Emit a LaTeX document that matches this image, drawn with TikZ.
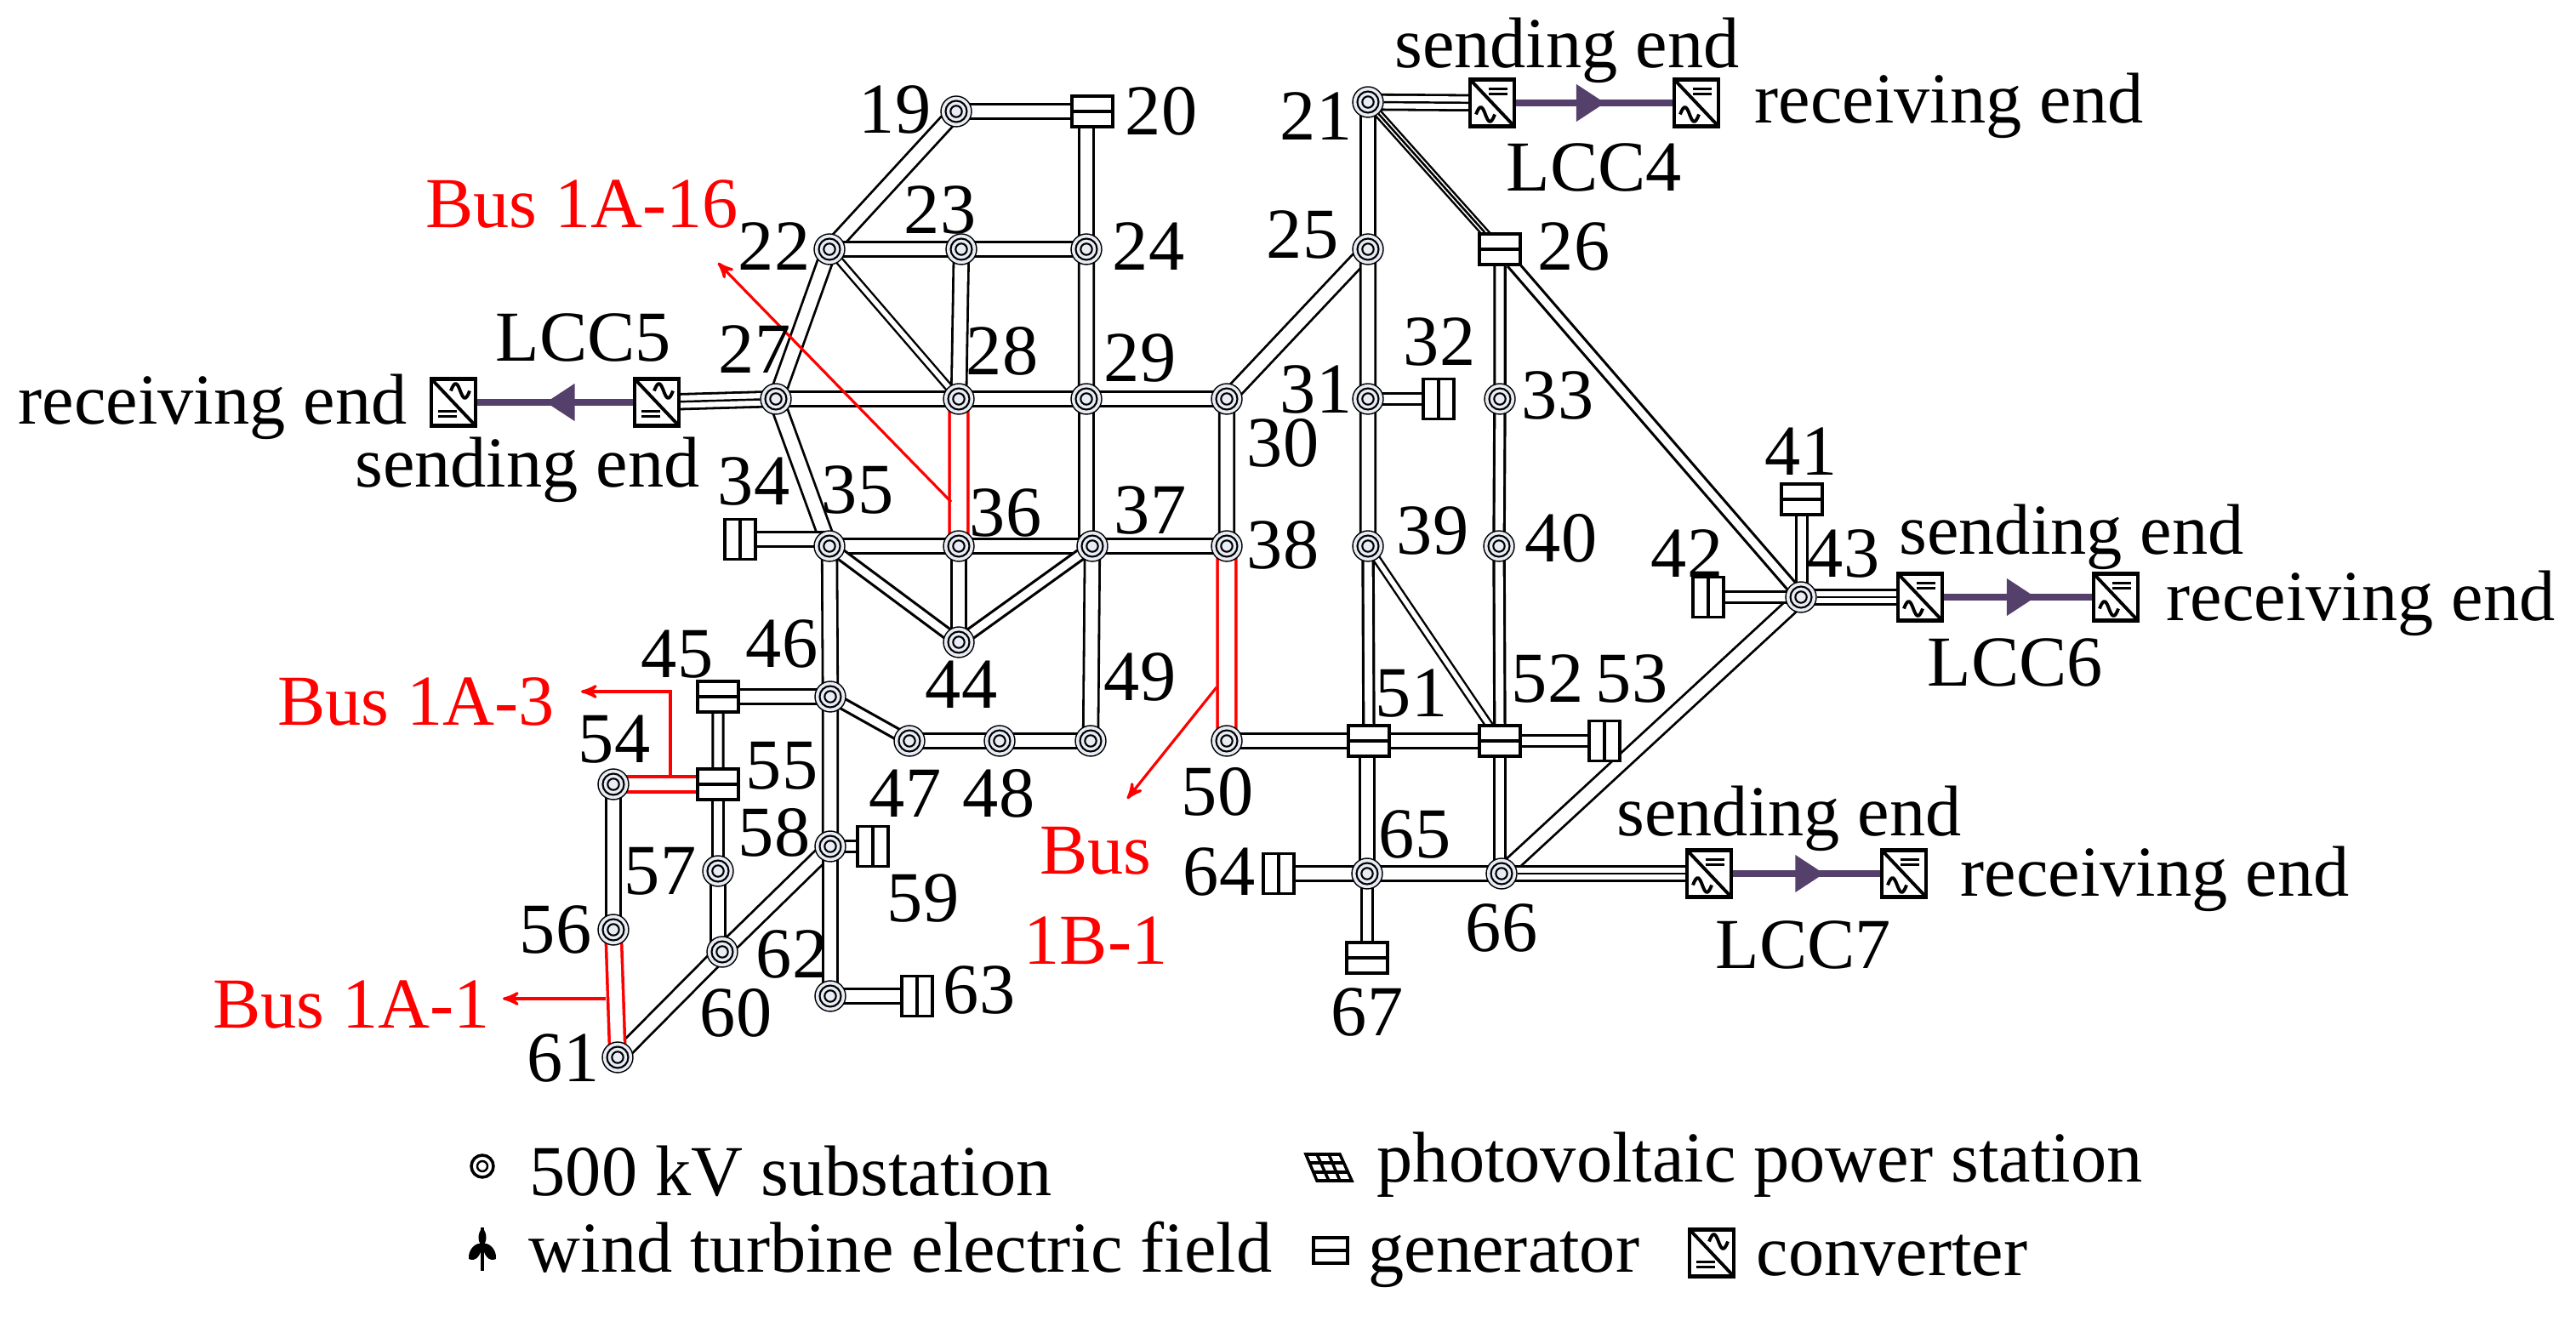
\documentclass[tikz,border=0pt]{standalone}
\usepackage{fontspec}
\setmainfont{Liberation Serif}
\usepackage{xcolor}
\usetikzlibrary{arrows,arrows.meta,backgrounds,decorations.markings}
\definecolor{busfill}{HTML}{E8ECF5}
\definecolor{dclink}{HTML}{54406A}

\begin{document}
\begin{tikzpicture}[>=stealth',
  bus node/.style={circle,inner sep=0pt,minimum size=.36cm,draw,line width=.4pt,fill=busfill,
    path picture={\draw[line width=.6pt] (path picture bounding box.center) circle (.125) circle (.067);}},
  mini bus/.style={circle,inner sep=0pt,minimum size=.26cm,draw,line width=1pt,fill=white,
    path picture={\draw[line width=.7pt] (path picture bounding box.center) circle (.06);\fill (path picture bounding box.center) circle (.02);}},
  gen node/.style={rectangle,inner sep=0pt,minimum width=.48cm,minimum height=.36cm,draw,line width=1.1pt,fill=white,
    path picture={\draw[line width=1.1pt] (path picture bounding box.west) -- (path picture bounding box.east);}},
  genv node/.style={rectangle,inner sep=0pt,minimum width=.36cm,minimum height=.47cm,draw,line width=1.1pt,fill=white,
    path picture={\draw[line width=1.1pt] (path picture bounding box.north) -- (path picture bounding box.south);}},
  conv node/.style={rectangle,inner sep=0pt,minimum width=.52cm,minimum height=.55cm,draw,line width=1.2pt,fill=white,
    path picture={
      \draw[line width=1.1pt] (path picture bounding box.north west) -- (path picture bounding box.south east);
      \begin{scope}[shift={(path picture bounding box.center)},line width=1.1pt]
        \draw (#1*.07-.11,#1*.135+.03) -- (#1*.07+.11,#1*.135+.03) (#1*.07-.11,#1*.135-.03) -- (#1*.07+.11,#1*.135-.03);
        \draw (-#1*.08-.11,-#1*.135) .. controls (-#1*.08-.06,-#1*.135+.14) and (-#1*.08-.03,-#1*.135+.08) .. (-#1*.08,-#1*.135)
          .. controls (-#1*.08+.03,-#1*.135-.08) and (-#1*.08+.06,-#1*.135-.14) .. (-#1*.08+.11,-#1*.135);
      \end{scope}}},
  num node/.style={inner sep=0pt,font=\fontsize{24}{28}\selectfont},
  note node/.style={inner sep=0pt,anchor=base,font=\fontsize{24}{28}\selectfont},
  bus label/.style={note node,text=red},
  tie/.style={every edge/.style={draw=black,line width=.8pt,double=white,double distance=4.2pt,shorten >=-1.5pt,shorten <=-1.5pt}},
  slim tie/.style={every edge/.style={draw=black,line width=.9pt,double=white,double distance=2.6pt,shorten >=-1.5pt,shorten <=-1.5pt}},
  thin tie/.style={every edge/.style={draw=black,line width=.7pt,double=white,double distance=1.6pt,shorten >=-1.5pt,shorten <=-1.5pt}},
  red tie/.style={every edge/.style={draw=red,line width=1pt,double=white,double distance=#1,shorten >=-1.5pt,shorten <=-1.5pt}},
  core/.style={every edge/.style={draw=black,line width=.7pt}},
  bus tap/.style={draw=red,line width=.9pt,->},
  dc link/.style={draw=dclink,line width=2.2pt,postaction={decorate},
    decoration={markings,mark=at position #1 with {\arrow{Triangle[length=3.4mm,width=4.2mm]}}}}]

  \useasboundingbox (0,0) rectangle (30.28,-15.6);

  \node[bus node]  (19) at (11.24,-1.31) {};
  \node[gen node]  (20) [right of=19,node distance=1.6cm] {};
  \node[bus node]  (22) at (9.75,-2.93) {};
  \node[bus node]  (23) [right of=22,node distance=1.55cm] {};
  \node[bus node]  (24) [right of=23,node distance=1.47cm] {};
  \node[bus node]  (25) [right of=24,node distance=3.31cm] {};
  \node[gen node]  (26) [right of=25,node distance=1.55cm] {};
  \node[bus node]  (21) [above of=25,node distance=1.73cm] {};
  \node[bus node]  (27) at (9.12,-4.69) {};
  \node[bus node]  (28) [right of=27,node distance=2.15cm] {};
  \node[bus node]  (29) [right of=28,node distance=1.5cm] {};
  \node[bus node]  (30) [right of=29,node distance=1.65cm] {};
  \node[bus node]  (31) [right of=30,node distance=1.66cm] {};
  \node[genv node] (32) [right of=31,node distance=.83cm] {};
  \node[bus node]  (33) [right of=32,node distance=.72cm] {};
  \node[genv node] (34) at (8.7,-6.34) {};
  \node[bus node]  (35) at (9.75,-6.42) {};
  \node[bus node]  (36) [right of=35,node distance=1.52cm] {};
  \node[bus node]  (37) [right of=36,node distance=1.57cm] {};
  \node[bus node]  (38) [right of=37,node distance=1.58cm] {};
  \node[bus node]  (39) [right of=38,node distance=1.66cm] {};
  \node[bus node]  (40) [right of=39,node distance=1.54cm] {};
  \node[bus node]  (43) at (21.17,-7.02) {};
  \node[gen node]  (41) at (21.18,-5.87) {};
  \node[genv node] (42) [left of=43,node distance=1.09cm] {};
  \node[bus node]  (44) [below of=36,node distance=1.13cm] {};
  \node[gen node]  (45) at (8.44,-8.19) {};
  \node[bus node]  (46) [right of=45,node distance=1.32cm] {};
  \node[bus node]  (47) at (10.69,-8.71) {};
  \node[bus node]  (48) [right of=47,node distance=1.06cm] {};
  \node[bus node]  (49) [right of=48,node distance=1.07cm] {};
  \node[bus node]  (50) [right of=49,node distance=1.6cm] {};
  \node[gen node]  (51) [right of=50,node distance=1.67cm] {};
  \node[gen node]  (52) [right of=51,node distance=1.54cm] {};
  \node[genv node] (53) [right of=52,node distance=1.23cm] {};
  \node[bus node]  (54) at (7.21,-9.22) {};
  \node[gen node]  (55) [right of=54,node distance=1.23cm] {};
  \node[bus node]  (56) [below of=54,node distance=1.71cm] {};
  \node[bus node]  (57) [below of=55,node distance=1.02cm] {};
  \node[bus node]  (58) at (9.76,-9.95) {};
  \node[genv node] (59) [right of=58,node distance=.5cm] {};
  \node[bus node]  (60) at (8.49,-11.19) {};
  \node[bus node]  (61) at (7.26,-12.43) {};
  \node[bus node]  (62) at (9.76,-11.71) {};
  \node[genv node] (63) [right of=62,node distance=1.02cm] {};
  \node[bus node]  (65) at (16.07,-10.27) {};
  \node[genv node] (64) [left of=65,node distance=1.04cm] {};
  \node[bus node]  (66) [right of=65,node distance=1.58cm] {};
  \node[gen node]  (67) [below of=65,node distance=.99cm] {};

  \node[conv node=1]  (c4s) at (17.54,-1.21) {};
  \node[conv node=1]  (c4r) [right of=c4s,node distance=2.4cm] {};
  \node[conv node=-1] (c5s) at (7.72,-4.73) {};
  \node[conv node=-1] (c5r) [left of=c5s,node distance=2.39cm] {};
  \node[conv node=1]  (c6s) at (22.57,-7.02) {};
  \node[conv node=1]  (c6r) [right of=c6s,node distance=2.3cm] {};
  \node[conv node=1]  (c7s) at (20.09,-10.27) {};
  \node[conv node=1]  (c7r) [right of=c7s,node distance=2.29cm] {};

  \begin{pgfonlayer}{background}
  \path[tie]
    (19) edge (20)
         edge (22)
    (24) edge (24 |- 20)
    (22) edge (23)
         edge (27)
    (23) edge (24)
         edge (28)
    (24) edge (29)
    (21) edge (25)
         edge (c4s)
    (25) edge (30)
         edge (31)
    (27) edge (28)
         edge (35)
         edge (c5s)
    (28) edge (29)
    (29) edge (30)
         edge (29 |- 37)
    (30) edge (38)
    (31) edge (39)
    (34) edge (34 -| 35)
    (35) edge (36)
         edge (46)
    (36) edge (37)
         edge (44)
    (37) edge (38)
         edge (49)
    (43) edge (c6s)
         edge (66)
    (45) edge (46)
    (46) edge (58)
    (47) edge (48)
    (48) edge (49)
    (50) edge (51)
    (51) edge (52)
    (65) edge (65 |- 51)
    (54) edge (56)
    (57) edge (57 |- 60)
    (58) edge (60)
         edge (62)
    (60) edge (61)
    (62) edge (63)
    (64) edge (65)
    (65) edge (66)
    (66) edge (c7s);
  \path[slim tie]
    (26) edge (33)
         edge (43)
    (31) edge (32)
    (33) edge (40)
    (35) edge (44)
    (37) edge (44)
    (39) edge (51)
    (40) edge (52)
    (41) edge (41 |- 43)
    (42) edge (43)
    (45) edge (55)
    (46) edge (47)
    (52) edge (53)
         edge (52 |- 66)
    (55) edge (57)
    (58) edge (59)
    (65) edge (67);
  \path[thin tie]
    (21) edge (26)
    (22) edge (28)
    (39) edge (52);
  \path[red tie=5.2pt]
    (28) edge (36)
    (38) edge (50);
  \path[red tie=4.2pt]
    (54) edge (55)
    (56) edge (61);
  \path[core]
    (21) edge (c4s)
         edge (26)
    (27) edge (c5s)
    (43) edge (c6s)
    (66) edge (c7s);
  \end{pgfonlayer}

  \draw[dc link=.57] (c4s) -- (c4r);
  \draw[dc link=.56] (c5s) -- (c5r);
  \draw[dc link=.62] (c6s) -- (c6r);
  \draw[dc link=.62] (c7s) -- (c7r);

  \coordinate (t16) at (11.18,-5.9);
  \coordinate (h16) at (8.44,-3.09);
  \coordinate (t3) at (7.88,-9.13);
  \coordinate (k3) at (7.88,-8.13);
  \coordinate (h3) at (6.83,-8.13);
  \coordinate (t1) at (7.12,-11.74);
  \coordinate (h1) at (5.91,-11.74);
  \coordinate (tb) at (14.3,-8.08);
  \coordinate (hb) at (13.25,-9.39);
  \draw[bus tap] (t16) -- (h16);
  \draw[bus tap] (t3) -- (k3) -- (h3);
  \draw[bus tap] (t1) -- (h1);
  \draw[bus tap] (tb) -- (hb);

  \node[num node] (l19) at (10.52,-1.29) {19};
  \node[num node] (l20) at (13.65,-1.31) {20};
  \node[num node] (l21) at (15.47,-1.37) {21};
  \node[num node] (l22) at (9.1,-2.9) {22};
  \node[num node] (l23) at (11.05,-2.47) {23};
  \node[num node] (l24) at (13.5,-2.9) {24};
  \node[num node] (l25) at (15.31,-2.76) {25};
  \node[num node] (l26) at (18.5,-2.9) {26};
  \node[num node] (l27) at (8.87,-4.11) {27};
  \node[num node] (l28) at (11.78,-4.13) {28};
  \node[num node] (l29) at (13.4,-4.21) {29};
  \node[num node] (l30) at (15.08,-5.21) {30};
  \node[num node] (l31) at (15.47,-4.58) {31};
  \node[num node] (l32) at (16.92,-4.02) {32};
  \node[num node] (l33) at (18.31,-4.65) {33};
  \node[num node] (l34) at (8.86,-5.66) {34};
  \node[num node] (l35) at (10.08,-5.76) {35};
  \node[num node] (l36) at (11.82,-6.03) {36};
  \node[num node] (l37) at (13.52,-6.0) {37};
  \node[num node] (l38) at (15.08,-6.41) {38};
  \node[num node] (l39) at (16.84,-6.24) {39};
  \node[num node] (l40) at (18.35,-6.33) {40};
  \node[num node] (l41) at (21.17,-5.31) {41};
  \node[num node] (l42) at (19.83,-6.51) {42};
  \node[num node] (l43) at (21.67,-6.51) {43};
  \node[num node] (l44) at (11.3,-8.05) {44};
  \node[num node] (l45) at (7.96,-7.69) {45};
  \node[num node] (l46) at (9.19,-7.57) {46};
  \node[num node] (l47) at (10.64,-9.33) {47};
  \node[num node] (l48) at (11.74,-9.33) {48};
  \node[num node] (l49) at (13.4,-7.96) {49};
  \node[num node] (l50) at (14.31,-9.31) {50};
  \node[num node] (l51) at (16.59,-8.15) {51};
  \node[num node] (l52) at (18.19,-7.98) {52};
  \node[num node] (l53) at (19.18,-7.98) {53};
  \node[num node] (l54) at (7.22,-8.69) {54};
  \node[num node] (l55) at (9.19,-9.0) {55};
  \node[num node] (l56) at (6.53,-10.93) {56};
  \node[num node] (l57) at (7.76,-10.24) {57};
  \node[num node] (l58) at (9.1,-9.79) {58};
  \node[num node] (l59) at (10.85,-10.56) {59};
  \node[num node] (l60) at (8.65,-11.91) {60};
  \node[num node] (l61) at (6.62,-12.44) {61};
  \node[num node] (l62) at (9.31,-11.22) {62};
  \node[num node] (l63) at (11.51,-11.64) {63};
  \node[num node] (l64) at (14.33,-10.25) {64};
  \node[num node] (l65) at (16.63,-9.81) {65};
  \node[num node] (l66) at (17.65,-10.91) {66};
  \node[num node] (l67) at (16.07,-11.9) {67};

  \node[note node] (s4) at (18.42,-.8) {sending end};
  \node[note node] (n4) at (18.74,-2.25) {LCC4};
  \node[note node,anchor=base west] (r4) at (20.62,-1.45) {receiving end};
  \node[note node] (n5) at (6.86,-4.25) {LCC5};
  \node[note node] (r5) at (2.5,-4.99) {receiving end};
  \node[note node] (s5) at (6.2,-5.73) {sending end};
  \node[note node] (s6) at (24.35,-6.52) {sending end};
  \node[note node] (n6) at (23.69,-8.07) {LCC6};
  \node[note node] (r6) at (27.75,-7.3) {receiving end};
  \node[note node] (s7) at (21.03,-9.83) {sending end};
  \node[note node] (n7) at (21.2,-11.39) {LCC7};
  \node[note node] (r7) at (25.33,-10.54) {receiving end};

  \node[bus label] (b16) at (6.84,-2.68) {Bus 1A-16};
  \node[bus label] (b3) at (4.89,-8.53) {Bus 1A-3};
  \node[bus label] (b1) at (4.13,-12.09) {Bus 1A-1};
  \node[bus label,anchor=center,align=center] (bb) at (12.88,-10.53) {Bus\\[.08cm]1B-1};

  \node[mini bus] (kbus) at (5.67,-13.71) {};
  \node[note node,anchor=base west] (tbus) at (6.22,-14.05) {500 kV substation};
  \draw[line width=1pt] (5.67,-14.43) -- (5.67,-14.94);
  \fill (5.67,-14.43) .. controls (5.74,-14.52) and (5.72,-14.6) .. (5.67,-14.66)
        .. controls (5.62,-14.6) and (5.6,-14.52) .. (5.67,-14.43);
  \fill (5.67,-14.62) .. controls (5.6,-14.6) and (5.5,-14.68) .. (5.51,-14.8)
        .. controls (5.59,-14.84) and (5.66,-14.76) .. (5.67,-14.62);
  \fill (5.67,-14.62) .. controls (5.74,-14.6) and (5.84,-14.68) .. (5.83,-14.8)
        .. controls (5.75,-14.84) and (5.68,-14.76) .. (5.67,-14.62);
  \node[note node,anchor=base west] (twind) at (6.21,-14.95) {wind turbine electric field};
  \filldraw[fill=white,line width=1pt] (15.35,-13.57) -- (15.75,-13.57) -- (15.89,-13.88) -- (15.48,-13.88) -- cycle;
  \draw[line width=1pt] (15.39,-13.67) -- (15.8,-13.67) (15.44,-13.78) -- (15.84,-13.78)
    (15.48,-13.57) -- (15.62,-13.88) (15.62,-13.57) -- (15.75,-13.88);
  \node[note node,anchor=base west] (tpv) at (16.18,-13.89) {photovoltaic power station};
  \node[gen node,minimum width=.4cm,minimum height=.3cm,line width=.9pt] (kgen) at (15.64,-14.7) {};
  \node[note node,anchor=base west] (tgen) at (16.08,-14.95) {generator};
  \node[conv node=-1] (kconv) at (20.12,-14.73) {};
  \node[note node,anchor=base west] (tconv) at (20.64,-14.99) {converter};
\end{tikzpicture}
\end{document}
